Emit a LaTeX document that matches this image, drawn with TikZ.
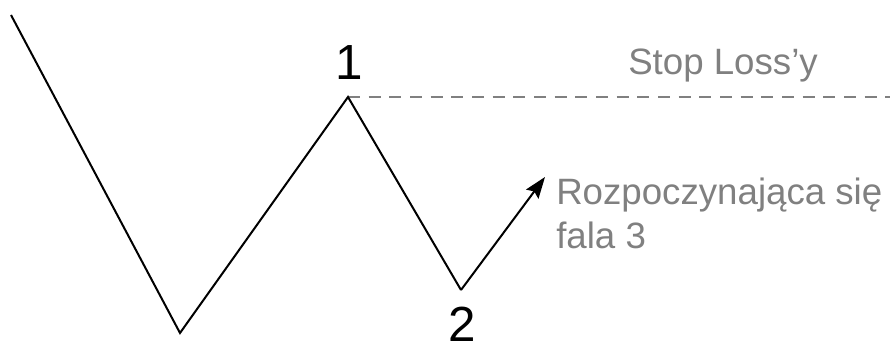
\documentclass[tikz,border=0pt]{standalone}
\usepackage{fontspec}
\setmainfont{Liberation Sans}
\usetikzlibrary{arrows.meta}
\definecolor{slgray}{HTML}{808080}
\tikzset{
  wave/.style={black, line width=1.5pt, line join=miter},
  stopline/.style={slgray, line width=1.9pt, dash pattern=on 9pt off 6.5pt},
  wavenum/.style={font=\fontsize{37}{37}\selectfont, inner sep=0pt, anchor=base},
  note/.style={slgray, font=\fontsize{27.5}{33}\selectfont, inner sep=0pt, anchor=base west, align=left},
}
\begin{document}
\begin{tikzpicture}[x=0.75pt, y=-0.75pt, >={Stealth[length=16pt, width=11.5pt, inset=2.5pt]}]
\useasboundingbox (0,0) rectangle (890,349);
% punkty fali
\coordinate (start) at (11,15);
\coordinate (dno) at (180,333);
\coordinate (szczyt1) at (348,97);
\coordinate (dolek2) at (461,290);
\coordinate (cel) at (545,177);
\coordinate (koniec) at (890,97);
% linia Stop Loss
\draw[stopline] (szczyt1) -- (koniec);
% fale
\draw[wave] (start) -- (dno) -- (szczyt1) -- (dolek2);
\draw[wave, ->] (dolek2) -- (cel);
% etykiety
\node[wavenum] (n1) at (349,80) {1};
\node[wavenum] (n2) at (462,342) {2};
\node[note] (sl) at (628,75) {Stop Loss’y};
\node[note] (fala) at (556,249) {Rozpoczynająca się\\fala 3};
\end{tikzpicture}
\end{document}
